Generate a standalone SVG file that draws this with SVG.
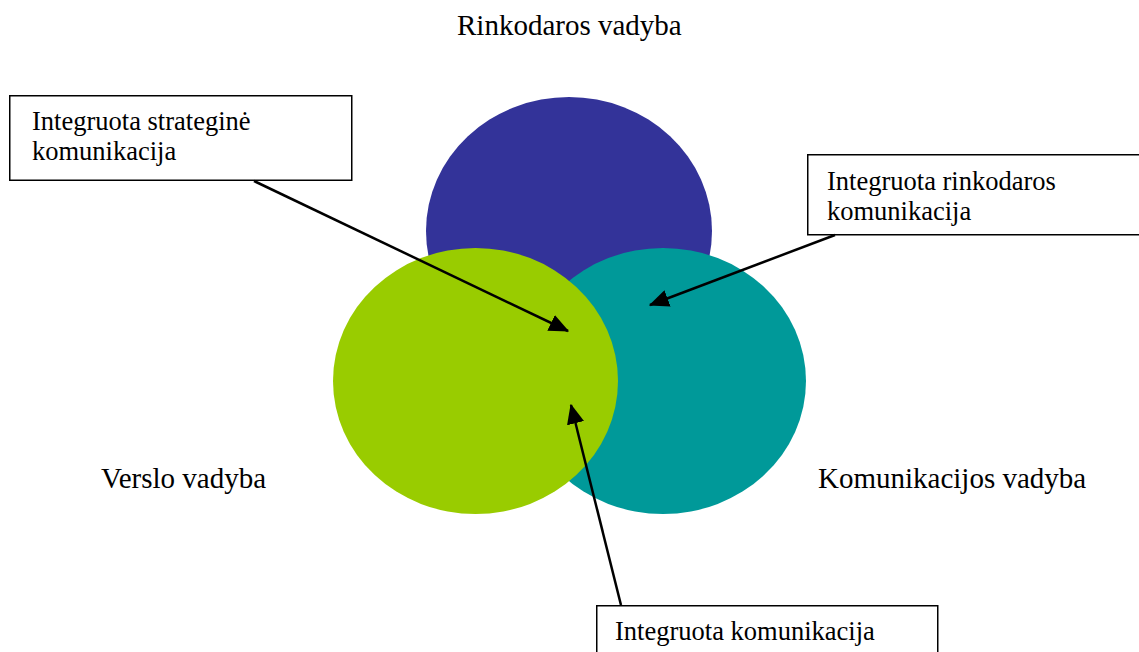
<svg xmlns="http://www.w3.org/2000/svg" width="1139" height="652" viewBox="0 0 1139 652">
<style>
.t{font-family:"Liberation Serif","Times New Roman",serif;fill:#000}
.lbl{font-size:29px}
.bx{font-size:26.5px}
.box{fill:#fff;stroke:#000;stroke-width:1.5}
.con{stroke:#000;stroke-width:2.5;fill:none;marker-end:url(#ah)}
</style>
<defs>
<marker id="ah" markerWidth="8" markerHeight="7" refX="7.5" refY="3.5" orient="auto" markerUnits="strokeWidth">
<path d="M0,0 L8,3.5 L0,7 Z" fill="#000"/>
</marker>
</defs>
<rect width="1139" height="652" fill="#fff"/>
<g id="rinkodaros">
<ellipse cx="569" cy="231" rx="143" ry="134" fill="#333399"/>
</g>
<g id="komunikacijos">
<ellipse cx="663" cy="381" rx="143" ry="133" fill="#009999"/>
</g>
<g id="verslo">
<ellipse cx="475.5" cy="381" rx="142.5" ry="133" fill="#99CC00"/>
</g>
<g id="label-rinkodaros"><text class="t lbl" x="457" y="35">Rinkodaros vadyba</text></g>
<g id="label-verslo"><text class="t lbl" x="101" y="488">Verslo vadyba</text></g>
<g id="label-komunikacijos"><text class="t lbl" x="818" y="488">Komunikacijos vadyba</text></g>
<g id="box-strategine">
<rect class="box" x="9.75" y="95.75" width="342" height="84.5"/>
<text class="t bx" x="32" y="130">Integruota strateginė</text>
<text class="t bx" x="32" y="160">komunikacija</text>
</g>
<g id="box-rinkodaros">
<rect class="box" x="807.75" y="154.75" width="340" height="80"/>
<text class="t bx" x="827" y="190">Integruota rinkodaros</text>
<text class="t bx" x="827" y="220">komunikacija</text>
</g>
<g id="box-integruota">
<rect class="box" x="596.75" y="605.75" width="341" height="60"/>
<text class="t bx" x="615" y="640">Integruota komunikacija</text>
</g>
<g id="connectors">
<line class="con" x1="254" y1="181" x2="568" y2="331"/>
<line class="con" x1="835" y1="235" x2="650" y2="305"/>
<line class="con" x1="621" y1="605" x2="571" y2="405"/>
</g>
</svg>
